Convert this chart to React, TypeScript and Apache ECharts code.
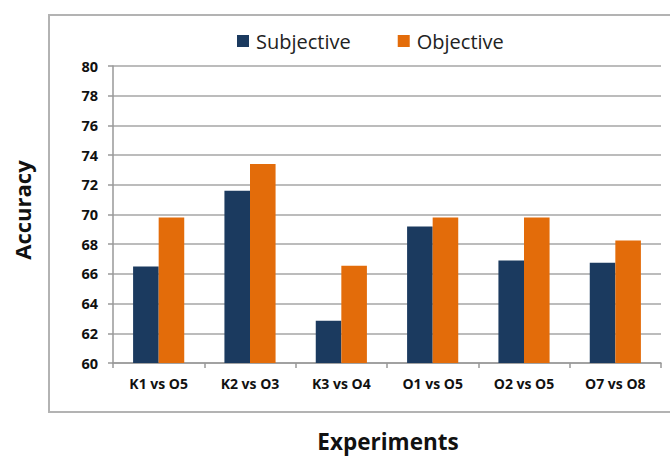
import React, { useEffect, useRef } from "react";
import * as echarts from "echarts";

const categories = ["K1 vs O5", "K2 vs O3", "K3 vs O4", "O1 vs O5", "O2 vs O5", "O7 vs O8"];
const subjective = [66.5, 71.6, 62.85, 69.2, 66.9, 66.75];
const objective = [69.8, 73.4, 66.55, 69.8, 69.8, 68.25];
const seriesNames = ["Subjective", "Objective"];
const yTitle = "Accuracy";
const xTitle = "Experiments";

const FONT = "'Open Sans', Lato, sans-serif";

export default function App() {
  const ref = useRef<HTMLDivElement>(null);
  useEffect(() => {
    if (!ref.current) return;
    const chart = echarts.init(ref.current, undefined, { renderer: "svg" });
    chart.setOption({
      animation: false,
      backgroundColor: "#ffffff",
      textStyle: { fontFamily: FONT },
      legend: {
        top: 26,
        left: 232,
        itemWidth: 12,
        itemHeight: 12,
        itemGap: 47,
        icon: "rect",
        textStyle: { fontSize: 20, color: "#222", fontFamily: FONT, padding: [0, 0, 0, 2] },
        data: seriesNames,
      },
      grid: { left: 113, right: 9, top: 66, bottom: 93, containLabel: false },
      xAxis: {
        type: "category",
        data: categories,
        axisLine: { lineStyle: { color: "#999", width: 1.5 } },
        axisTick: { show: true, length: 5, lineStyle: { color: "#999", width: 1.5 } },
        axisLabel: { fontSize: 14, fontWeight: "bold", color: "#111", margin: 13, fontFamily: FONT },
      },
      yAxis: {
        type: "value",
        min: 60,
        max: 80,
        interval: 2,
        axisLine: { show: true, lineStyle: { color: "#999", width: 1.5 } },
        axisTick: { show: true, length: 5, lineStyle: { color: "#999", width: 1.5 } },
        axisLabel: { fontSize: 14.5, fontWeight: "bold", color: "#111", margin: 15, fontFamily: FONT },
        splitLine: { lineStyle: { color: "#a6a6a6", width: 1.5 } },
      },
      series: [
        {
          name: seriesNames[0],
          type: "bar",
          data: subjective,
          itemStyle: { color: "#1b3a5f" },
          barGap: "0%",
          barCategoryGap: "44%",
        },
        {
          name: seriesNames[1],
          type: "bar",
          data: objective,
          itemStyle: { color: "#e36c0a" },
          barGap: "0%",
          barCategoryGap: "44%",
        },
      ],
      graphic: [
        {
          type: "rect",
          shape: { x: 49, y: 15, width: 640, height: 397 },
          style: { fill: "none", stroke: "#b3b3b3", lineWidth: 2 },
          silent: true,
        },
        {
          type: "text",
          x: 22,
          y: 210,
          rotation: Math.PI / 2,
          style: {
            text: yTitle,
            fontSize: 22,
            fontWeight: "bold",
            fontFamily: FONT,
            fill: "#111",
            align: "center",
            verticalAlign: "middle",
          },
        },
        {
          type: "text",
          x: 388,
          y: 441,
          style: {
            text: xTitle,
            fontSize: 22.5,
            fontWeight: "bold",
            fontFamily: FONT,
            fill: "#111",
            align: "center",
            verticalAlign: "middle",
          },
        },
      ],
    });
    return () => chart.dispose();
  }, []);
  return <div ref={ref} style={{ position: "fixed", left: 0, top: 0, width: 670, height: 456 }} />;
}
